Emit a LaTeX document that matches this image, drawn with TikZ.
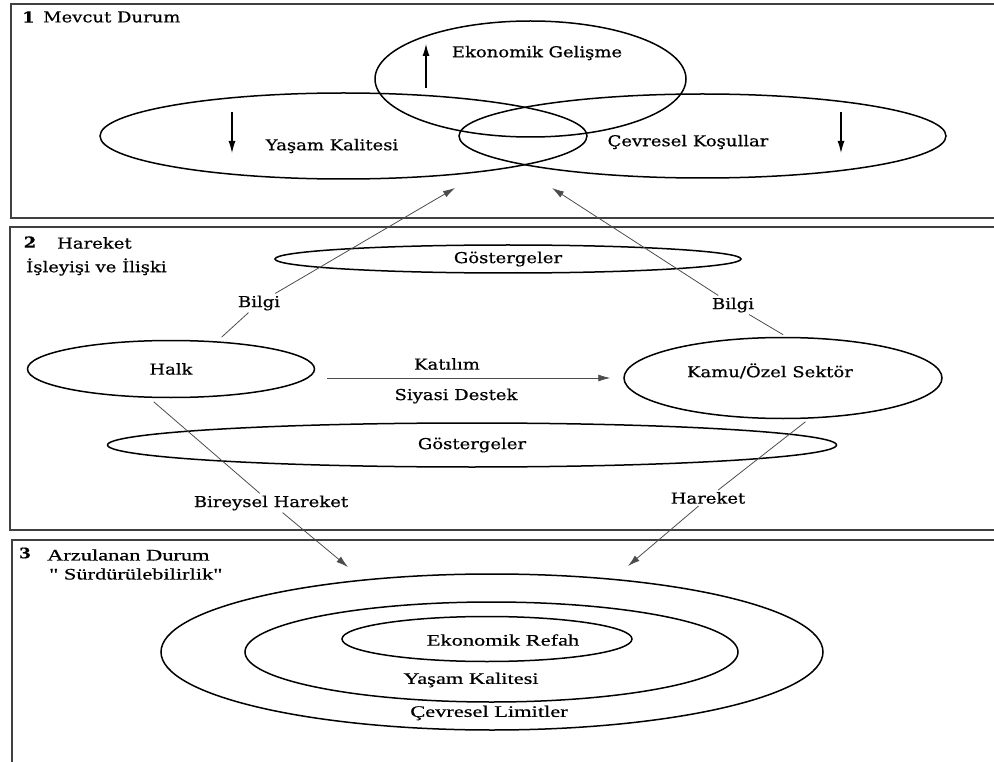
\documentclass[tikz,border=0pt]{standalone}
\usepackage{fontspec}
\newfontfamily\rfont[FakeStretch=1.2,FakeBold=0.6]{DejaVu Serif}
\newfontfamily\tfont[FakeStretch=1.4,FakeBold=0.6]{Liberation Serif}
\usetikzlibrary{shapes.geometric,arrows.meta}

\begin{document}
\begin{tikzpicture}[x=1pt,y=-1pt,>={Latex[length=12pt,width=7pt]},
  frame/.style={draw=black!75,line width=2pt},
  ell/.style={draw,ellipse,inner sep=0pt,line width=1.5pt},
  link/.style={draw=black!70,line width=0.8pt},
  lbl/.style={font=\rfont\fontsize{15}{17}\selectfont,inner sep=2pt},
  lblB/.style={font=\tfont\fontsize{16}{18}\selectfont,inner sep=2pt}]
  \useasboundingbox (0,0) rectangle (994,762);
  \draw[frame] (11,4) rectangle (1000,218);
  \draw[frame] (10,227) rectangle (1000,530);
  \draw[frame] (12,540) rectangle (1000,770);

  % 1
  \node[lbl,anchor=west] (t1) at (20,17) {\bfseries 1};
  \node[lbl,anchor=west] (t1b) at (41,17) {Mevcut Durum};
  \node[ell,minimum width=311pt,minimum height=116pt] (eko) at (530.5,79) {};
  \node[ell,minimum width=487pt,minimum height=86pt] (yasam) at (343.5,136) {};
  \node[ell,minimum width=487pt,minimum height=84pt] (cevre) at (702.5,136) {};
  \node[lbl] (ekoT) at (537,53) {Ekonomik Gelişme};
  \node[lbl] (yasamT) at (332,146) {Yaşam Kalitesi};
  \node[lbl] (cevreT) at (688,142) {Çevresel Koşullar};
  \draw[->,line width=1.1pt] (426,88) -- (426,44);
  \draw[->,line width=1.1pt] (232,112) -- (232,153);
  \draw[->,line width=1.1pt] (841,112) -- (841,153);

  % 2
  \node[lbl] (t2) at (30,242) {\bfseries 2};
  \node[lbl,anchor=west] (t2b) at (55,243) {Hareket};
  \node[lbl,anchor=west] (t2c) at (24,267) {İşleyişi ve İlişki};
  \node[lbl,ell,minimum width=466pt,minimum height=28pt] (gosA) at (508,259) {Göstergeler};
  \node[lbl,ell,minimum width=287pt,minimum height=57pt] (halk) at (171,369) {Halk};
  \node[ell,minimum width=318pt,minimum height=81pt] (kamu) at (783,378) {};
  \node[lbl] (kamuT) at (770,371) {Kamu/Özel Sektör};
  \node[lbl,ell,minimum width=729pt,minimum height=44pt] (gosB) at (472,445) {Göstergeler};
  \node[lbl] (katilim) at (447,364) {Katılım};
  \node[lbl] (destek) at (456,396) {Siyasi Destek};
  \node[lbl] (bilgiL) at (259,303) {Bilgi};
  \node[lbl] (bilgiR) at (733,305) {Bilgi};
  \node[lbl] (bireysel) at (271,503) {Bireysel Hareket};
  \node[lbl] (hareket) at (708,498) {Hareket};
  \coordinate (upL) at (455,188);
  \coordinate (upR) at (552,188);
  \coordinate (downL) at (348,567);
  \coordinate (downR) at (628,566);
  \draw[link,->,shorten <=12pt,shorten >=13pt] (halk.east |- kamu.west) -- (kamu.west);
  \draw[link,shorten <=6pt] (halk.31) -- (bilgiL);
  \draw[link,->] (bilgiL) -- (upL);
  \draw[link,shorten <=4pt] (kamu.85) -- (bilgiR);
  \draw[link,->] (bilgiR) -- (upR);
  \draw[link,shorten <=6pt] (halk.233) -- (bireysel);
  \draw[link,->] (bireysel) -- (downL);
  \draw[link,shorten <=5pt] (kamu.303) -- (hareket);
  \draw[link,->] (hareket) -- (downR);

  % 3
  \node[lblB] (t3) at (25,553) {\bfseries 3};
  \node[lblB,anchor=west] (t3b) at (45,555) {Arzulanan Durum};
  \node[lblB,anchor=west] (t3c) at (47,574) {" Sürdürülebilirlik"};
  \node[ell,minimum width=662pt,minimum height=156pt] (cev) at (492,652) {};
  \node[ell,minimum width=493pt,minimum height=100pt] (yas) at (491.5,652) {};
  \node[ell,minimum width=290pt,minimum height=45pt] (ref) at (487,639) {};
  \node[lblB] (refT) at (503,640) {Ekonomik Refah};
  \node[lblB] (yasT) at (471,680) {Yaşam Kalitesi};
  \node[lblB] (cevT) at (489,713) {Çevresel Limitler};
\end{tikzpicture}
\end{document}
